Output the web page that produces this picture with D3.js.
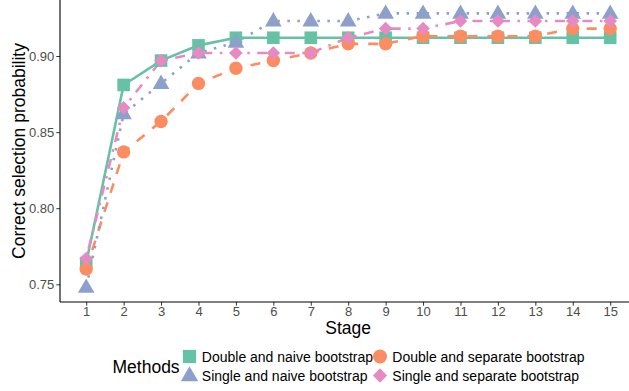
<!DOCTYPE html>
<html><head><meta charset="utf-8">
<script src="https://cdn.jsdelivr.net/npm/d3@7"></script>
<style>
html,body{margin:0;padding:0;background:#fff;}
svg{display:block;font-family:"Liberation Sans",Arial,Helvetica,sans-serif;}
</style></head>
<body>
<svg id="chart" width="629" height="391"></svg>
<script>
const stages = [1,2,3,4,5,6,7,8,9,10,11,12,13,14,15];
const methodNames = ["Double and naive bootstrap","Double and separate bootstrap","Single and naive bootstrap","Single and separate bootstrap"];
const doubleNaive    = [0.764,0.881,0.897,0.907,0.912,0.912,0.912,0.912,0.912,0.912,0.912,0.912,0.912,0.912,0.912];
const doubleSeparate = [0.760,0.837,0.857,0.882,0.892,0.897,0.902,0.908,0.908,0.913,0.913,0.913,0.913,0.918,0.918];
const singleNaive    = [0.748,0.862,0.882,0.902,0.909,0.923,0.923,0.923,0.928,0.928,0.928,0.928,0.928,0.928,0.928];
const singleSeparate = [0.767,0.866,0.897,0.902,0.902,0.902,0.902,0.912,0.918,0.918,0.923,0.923,0.923,0.923,0.923];
const yTicks = [0.75,0.80,0.85,0.90];
const xTicks = stages;

const colors = ["#66C2A5","#FC8D62","#8DA0CB","#E78AC3"];
const dashes = [null,"10,10","2.5,7.5","2.5,7.5,10,7.5"];
const shapes = ["square","circle","triangle","diamond"];
const seriesVals = [doubleNaive,doubleSeparate,singleNaive,singleSeparate];
const series = methodNames.map((name,i)=>({name, values: seriesVals[i].map((v,j)=>({x:stages[j],y:v})), color:colors[i], dash:dashes[i], shape:shapes[i]}));

const svg = d3.select("#chart");
const L = 60, T = 0, B = 302, R = 636.4;
const x = d3.scaleLinear().domain([0.3,15.7]).range([L,R]);
const y = d3.scaleLinear().domain([0.7384,0.9368]).range([B,T]);

svg.append("defs").append("clipPath").attr("id","clip")
  .append("rect").attr("x",L).attr("y",T).attr("width",R-L).attr("height",B-T);

// axes
const xAxis = svg.append("g").attr("transform",`translate(0,${B})`)
  .call(d3.axisBottom(x).tickValues(xTicks).tickFormat(d3.format("d")).tickSize(3.7).tickSizeOuter(0));
const yAxis = svg.append("g").attr("transform",`translate(${L},0)`)
  .call(d3.axisLeft(y).tickValues(yTicks).tickFormat(d3.format(".2f")).tickSize(3.7).tickSizeOuter(0));
[xAxis,yAxis].forEach(g=>{
  g.select(".domain").remove();
  g.selectAll(".tick line").attr("stroke","#333333").attr("stroke-width",1);
  g.selectAll(".tick text").attr("fill","#4D4D4D").style("font-size","13px").style("font-family","'Liberation Sans',Arial,sans-serif");
});
xAxis.selectAll(".tick text").attr("dy",null).attr("y",13.7);
yAxis.selectAll(".tick text").attr("x",-5.7).attr("dy","0.35em");
svg.append("line").attr("x1",L).attr("x2",629).attr("y1",B).attr("y2",B).attr("stroke","#000").attr("stroke-width",1.1);
svg.append("line").attr("x1",L).attr("x2",L).attr("y1",0).attr("y2",B).attr("stroke","#000").attr("stroke-width",1.1);

// lines
const plot = svg.append("g").attr("clip-path","url(#clip)");
const line = d3.line().x(d=>x(d.x)).y(d=>y(d.y));
series.forEach(s=>{
  plot.append("path").datum(s.values).attr("d",line)
    .attr("fill","none").attr("stroke",s.color).attr("stroke-width",2.6)
    .attr("stroke-dasharray",s.dash);
});

function drawShape(g, shape, cx, cy, color, k){
  k = k||1;
  if(shape==="square"){
    const a=12.6*k; g.append("rect").attr("x",cx-a/2).attr("y",cy-a/2).attr("width",a).attr("height",a).attr("fill",color);
  } else if(shape==="circle"){
    g.append("circle").attr("cx",cx).attr("cy",cy).attr("r",6.7*k).attr("fill",color);
  } else if(shape==="triangle"){
    const w=16.6*k, h=14.4*k;
    g.append("path").attr("d",`M${cx},${cy-h*0.62}L${cx+w/2},${cy+h*0.38}L${cx-w/2},${cy+h*0.38}Z`).attr("fill",color);
  } else {
    const r=6.8*k;
    g.append("path").attr("d",`M${cx},${cy-r}L${cx+r},${cy}L${cx},${cy+r}L${cx-r},${cy}Z`).attr("fill",color);
  }
}
series.forEach(s=>{
  const g = plot.append("g");
  s.values.forEach(d=>drawShape(g,s.shape,x(d.x),y(d.y),s.color));
});

// axis titles
svg.append("text").attr("x",(L+R)/2).attr("y",333.5).attr("text-anchor","middle")
  .style("font-size","17.5px").attr("fill","#000").text("Stage");
svg.append("text").attr("transform",`translate(24.5,${(T+B)/2}) rotate(-90)`).attr("text-anchor","middle")
  .style("font-size","17.5px").attr("fill","#000").text("Correct selection probability");

// legend
const lg = svg.append("g");
lg.append("text").attr("x",112.5).attr("y",372.5).style("font-size","17.5px").attr("fill","#000").text("Methods");
const pos = [[189.5,356.5],[380,356.5],[189.5,375.5],[380,375.5]];
series.forEach((s,i)=>{
  const [kx,ky]=pos[i];
  drawShape(lg,s.shape,kx,ky,s.color,1.05);
  lg.append("text").attr("x",kx+12.3).attr("y",ky+5).style("font-size","14px").attr("fill","#000").text(s.name);
});
</script>
</body></html>
